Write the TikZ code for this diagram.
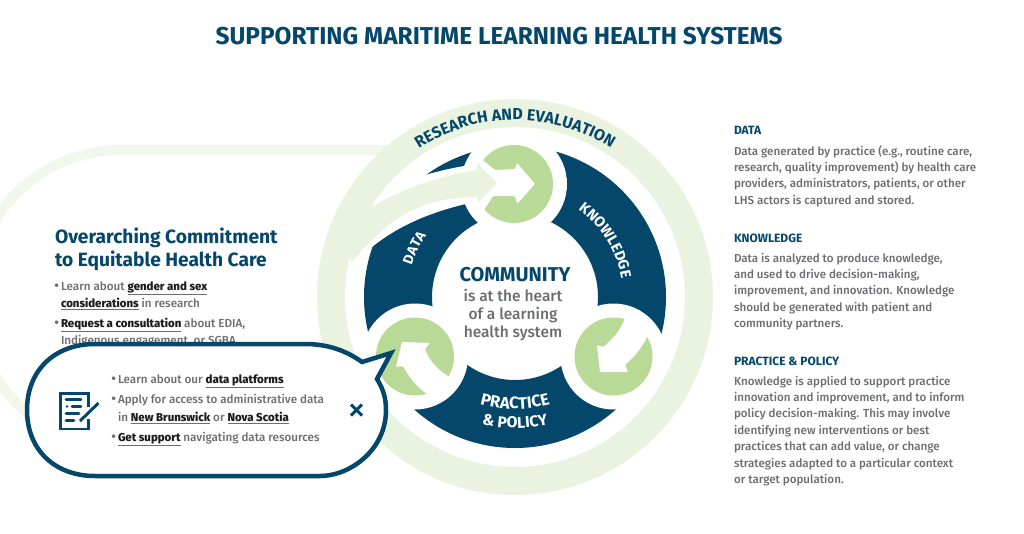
\documentclass[tikz,border=0pt]{standalone}
\usepackage{fontspec}
\setmainfont{Fira Sans}
\newfontfamily\medf{Fira Sans Medium}
\definecolor{navy}{HTML}{04476A}
\definecolor{pale}{HTML}{E9F3DF}
\definecolor{paler}{HTML}{F1F7EB}
\definecolor{leaf}{HTML}{B9DA96}
\definecolor{txt}{HTML}{6B6D70}
\definecolor{lnk}{HTML}{1C1C1C}
\newcommand\fs[2]{\fontsize{#1pt}{#2pt}\selectfont}
\newcommand\ul[1]{\vtop{\hbox{\textcolor{lnk}{\fs{11.45}{17}\bfseries #1}}\kern1.6pt\hrule height .8pt}}
\newcommand\blt{\llap{\fs{14}{17}\raisebox{-.8pt}{\textbullet}\kern1.8pt}}
\newdimen\arcpos
\newdimen\arclw
\newbox\arcbox
\def\arcc{515,297}
\newcommand\arcmeasure[2]{\pgfinterruptpicture\global\setbox\arcbox\hbox{#1#2}\endpgfinterruptpicture\global\arclw=\wd\arcbox}
\newcommand\arctext[7]{% name, font, colour, radius, centre angle, direction, letters
 \global\arcpos=0pt
 \foreach \ch in {#7}{\arcmeasure{#2}{\ch}\global\advance\arcpos by \arclw}
 \edef\arctotal{\the\arcpos}
 \global\arcpos=0pt
 \foreach \ch [count=\i] in {#7}{
  \arcmeasure{#2}{\ch}
  \pgfmathsetmacro\ang{#5+#6*(\the\arcpos+0.5*\the\arclw-0.5*\arctotal)/#4*57.29578}
  \pgfmathsetmacro\rot{\ang+#6*90}
  \node[inner sep=0pt,outer sep=0pt,anchor=base,text=#3,font=#2,rotate=\rot] (#1-\i) at ([shift={(\ang:#4pt)}]\arcc) {\ch};
  \global\advance\arcpos by \arclw
 }
}
\tikzset{
 lbl/.style={inner sep=0pt,outer sep=0pt,anchor=base west},
 body/.style={lbl,text=txt,align=left,font=\medf\fs{11.6}{16.4}},
 head/.style={lbl,text=navy,font=\fs{12}{16}\bfseries},
 item/.style={lbl,text=txt,font=\medf\fs{11.65}{17}},
 centre/.style={inner sep=0pt,outer sep=0pt,anchor=base,align=center},
 cutout/.style={fill=white,draw=none},
}
\begin{document}
\begin{tikzpicture}[x=1pt,y=-1pt]
\useasboundingbox (0,0) rectangle (1024,533);
\fill[white] (0,0) rectangle (1024,533);
% background band
\draw[paler,line width=10pt] (390,150) -- (121,150) arc[start angle=90,end angle=270,radius=148pt];
% dark ring
\fill[navy,even odd rule] (515,297) circle[radius=151pt] (515,297) circle[radius=83pt];
% cuts
\fill[cutout] (514,184) circle[radius=53pt];
\fill[cutout] (613.5,356.5) circle[radius=53pt];
\fill[cutout] (415,356.5) circle[radius=53pt];
\fill[cutout] (350,208) .. controls (385,187) and (425,172) .. (470,165) -- (490,185) -- (470,203)
  .. controls (430,212) and (398,226) .. (372,247) -- (340,275) -- cycle;
% ring
\fill[pale,even odd rule] (515,297) circle[radius=198pt] (515,297) circle[radius=170pt];
% green discs
\fill[leaf] (514,184) circle[radius=39pt];
\fill[leaf] (613.5,356.5) circle[radius=39pt];
\fill[leaf] (415,356.5) circle[radius=39pt];
% white arrows in discs
\fill[cutout,rounded corners=1pt] (475,155) -- (484,161) -- (495,170) -- (515,169) -- (517,163) -- (535,184) -- (517,204) -- (515,196) -- (493,196) -- (484,210) -- (475,213) -- cycle;
\fill[cutout,rounded corners=1pt] (603,347) .. controls (612,340) and (621,330) .. (625,318) -- (628,310) -- (653,330) -- (647,337)
  .. controls (641,349) and (634,357) .. (625,365) -- (628,372) -- (600,372) -- (597,345) -- cycle;
\fill[cutout,rounded corners=1pt] (425,349) .. controls (429,360) and (437,369) .. (448,376) -- (456,380) -- (437,399) -- (427,394)
  .. controls (417,387) and (409,377) .. (403,366) -- (396,367) -- (402,342) -- (430,343) -- cycle;
% pale arrow
\fill[pale,rounded corners=.8pt] (368,209) .. controls (400,190) and (435,177) .. (477,170) -- (477,163) -- (497,183) -- (478,203) -- (477,197)
  .. controls (435,199) and (400,203) .. (352,262) -- (340,240) -- cycle;
% curved labels
\arctext{research}{\fs{16}{16}\bfseries}{navy}{177}{90}{-1}{R,E,S,E,A,R,C,H,~,A,N,D,~,E,V,A,L,U,A,T,I,O,N}
\arctext{data}{\fs{14}{16}\bfseries}{white}{108}{154}{-1}{D,A,T,A}
\arctext{know}{\fs{14.7}{16}\bfseries}{white}{108}{32}{-1}{K,N,O,W,L,E,D,G,E}
\def\arcc{515,280}
\arctext{prac}{\fs{16.5}{16}\bfseries}{white}{129}{-90}{1}{P,R,A,C,T,I,C,E}
\arctext{poli}{\fs{15.7}{16}\bfseries}{white}{148}{-90}{1}{\&,~,P,O,L,I,C,Y}
% title
\node[centre,text=navy,font=\fs{24.4}{26}\bfseries] (title) at (499,44) {SUPPORTING MARITIME LEARNING HEALTH SYSTEMS};
% centre text
\node[centre,text=navy,font=\fs{20}{22}\bfseries] (community) at (515,281) {COMMUNITY};
\node[centre,text=txt,font=\medf\fs{15.5}{17.6}] (heart) at (513,337) {is at the heart\\of a learning\\health system};
% right column
\node[head] (h1) at (734,134) {DATA};
\node[body] (b1) at (734,204.2) {Data generated by practice (e.g., routine care,\\research, quality improvement) by health care\\providers, administrators, patients, or other\\LHS actors is captured and stored.};
\node[head] (h2) at (734,242) {KNOWLEDGE};
\node[body] (b2) at (734,327.6) {Data is analyzed to produce knowledge,\\and used to drive decision-making,\\improvement, and innovation. Knowledge\\should be generated with patient and\\community partners.};
\node[head] (h3) at (734,365) {PRACTICE \& POLICY};
\node[body] (b3) at (734,483.4) {Knowledge is applied to support practice\\innovation and improvement, and to inform\\policy decision-making. This may involve\\identifying new interventions or best\\practices that can add value, or change\\strategies adapted to a particular context\\or target population.};
% left column
\node[lbl,text=navy,font=\fs{19.2}{22.6}\bfseries,align=left] (ov) at (55,266) {Overarching Commitment\\to Equitable Health Care};
\node[item] (l1) at (61,290) {\blt Learn about \ul{gender and sex}};
\node[item] (l2) at (61,307) {\ul{considerations} in research};
\node[item] (l3) at (61,327) {\blt \ul{Request a consultation} about EDIA,};
\node[item] (l4) at (61,344) {Indigenous engagement, or SGBA};
% bubble
\draw[navy,line width=4.5pt,fill=white,line join=miter,miter limit=10] (95,344) -- (305,344)
  .. controls (330,344) and (348,352) .. (362,362) -- (391,353) -- (377,379)
  .. controls (384,390) and (386,400) .. (386,410)
  .. controls (386,450) and (350,476) .. (320,476) -- (95,476)
  .. controls (55,476) and (27,450) .. (27,410)
  .. controls (27,370) and (55,344) .. (95,344) -- cycle;
% bubble text
\node[item] (p1) at (118,383) {\blt Learn about our \ul{data platforms}};
\node[item] (p2) at (118,403) {\blt Apply for access to administrative data};
\node[item] (p3) at (118,421) {in \ul{New Brunswick} or \ul{Nova Scotia}};
\node[item] (p4) at (118,441) {\blt \ul{Get support} navigating data resources};
% close mark
\draw[navy,line width=3pt] (351,404.5) -- (362,415.5) (351,415.5) -- (362,404.5);
% icon
\draw[navy,line width=2.6pt] (88.5,407) -- (88.5,393.3) -- (60.3,393.3) -- (60.3,429) -- (88.5,429) -- (88.5,419);
\draw[navy,line width=2.6pt,line cap=round] (66,399.5) -- (81,399.5) (72,406.5) -- (81,406.5) (66,413.5) -- (79,413.5) (66,420.5) -- (74,420.5);
\fill[navy] (67,406.5) circle[radius=1.3pt];
\draw[navy,line width=3pt] (80,421) -- (98.5,403);
\end{tikzpicture}
\end{document}
